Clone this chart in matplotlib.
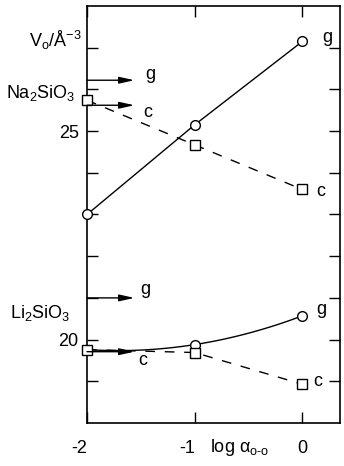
import matplotlib
matplotlib.use("Agg")
import matplotlib.pyplot as plt
import numpy as np

plt.rcParams['font.family'] = ['Liberation Sans', 'DejaVu Sans']
plt.rcParams['mathtext.fontset'] = 'custom'
plt.rcParams['mathtext.rm'] = 'Liberation Sans'

# data (log alpha_o-o, V_o / A^-3)
x_vals = [-2, -1, 0]
na_glass = [23.0, 25.15, 27.15]
na_cryst = [25.74, 24.67, 23.6]
li_glass = [19.76, 19.88, 20.57]
li_cryst = [19.76, 19.69, 18.93]
# reference arrows (at x = -2)
na_arrow = {'g': 26.22, 'c': 25.62}
li_arrow = {'g': 21.0, 'c': 19.71}

xticks = [-2, -1, 0]
xticklabels = ['-2', '-1', '0']
yticks = [19, 20, 21, 22, 23, 24, 25, 26, 27]
yticklabels = ['', '20', '', '', '', '', '25', '', '']

W, H = 344, 466
fig = plt.figure(figsize=(W / 100, H / 100), dpi=100)
ax = fig.add_axes([87 / W, 1 - 423 / H, (340 - 87) / W, (423 - 6) / H])
ax.set_xlim(-2, 0.35)
ax.set_ylim(18, 28)

lw = 1.0
fs = 13
ms = 7

# Na2SiO3
ax.plot(x_vals, na_glass, '-', color='black', lw=lw, marker='o', ms=ms,
        mfc='white', mec='black', mew=1.0, clip_on=False, zorder=3)
ax.plot(x_vals, na_cryst, color='black', lw=lw, ls=(0, (7, 7)), marker='s', ms=ms,
        mfc='white', mec='black', mew=1.0, clip_on=False, zorder=3)

# Li2SiO3 - smooth curve through glass points
coef = np.polyfit(x_vals, li_glass, 2)
xs = np.linspace(x_vals[0], x_vals[-1], 100)
ax.plot(xs, np.polyval(coef, xs), '-', color='black', lw=lw, zorder=2)
ax.plot(x_vals[1:], li_glass[1:], 'o', ms=ms, mfc='white', mec='black', mew=1.0, zorder=3)
ax.plot(x_vals, li_cryst, color='black', lw=lw, ls=(0, (7, 7)), marker='s', ms=ms,
        mfc='white', mec='black', mew=1.0, clip_on=False, zorder=3)

# arrows
arrow_end = -1.56
for d in (na_arrow, li_arrow):
    for k, yv in d.items():
        ax.annotate('', xy=(arrow_end, yv), xytext=(-2, yv),
                    arrowprops=dict(arrowstyle='-|>,head_length=0.9,head_width=0.2',
                                    color='black', lw=lw, shrinkA=0, shrinkB=0))

# arrow labels
ax.text(-1.41, 26.35, 'g', fontsize=fs, ha='center', va='center')
ax.text(-1.44, 25.45, 'c', fontsize=fs, ha='center', va='center')
ax.text(-1.46, 21.2, 'g', fontsize=fs, ha='center', va='center')
ax.text(-1.48, 19.5, 'c', fontsize=fs, ha='center', va='center')

# end labels
ax.text(0.23, 27.25, 'g', fontsize=fs, ha='center', va='center')
ax.text(0.17, 23.55, 'c', fontsize=fs, ha='center', va='center')
ax.text(0.18, 20.72, 'g', fontsize=fs, ha='center', va='center')
ax.text(0.14, 19.0, 'c', fontsize=fs, ha='center', va='center')

# axes styling
for s in ax.spines.values():
    s.set_linewidth(1.2)
ax.set_xticks(xticks)
ax.set_xticklabels(xticklabels, fontsize=fs)
for lab in ax.get_xticklabels()[:2]:
    lab.set_ha('right')
ax.set_yticks(yticks)
ax.set_yticklabels(yticklabels, fontsize=fs)
ax.tick_params(axis='both', direction='in', length=8, width=1.0,
               top=True, right=True)
ax.tick_params(axis='x', pad=12)
ax.tick_params(axis='y', pad=6)

# side labels
fig.text(82 / W, 1 - 40 / H, r'V$_\mathregular{o}$/Å$^\mathregular{-3}$', fontsize=fs,
         ha='right', va='center')
fig.text(75 / W, 1 - 93 / H, r'Na$_\mathregular{2}$SiO$_\mathregular{3}$', fontsize=fs,
         ha='right', va='center')
fig.text(70 / W, 1 - 313 / H, r'Li$_\mathregular{2}$SiO$_\mathregular{3}$', fontsize=fs,
         ha='right', va='center')
fig.text(240 / W, 1 - 447 / H, r'log $\mathregular{\alpha_{o\text{-}o}}$', fontsize=fs,
         ha='center', va='center')

fig.savefig('out.png', dpi=100)
